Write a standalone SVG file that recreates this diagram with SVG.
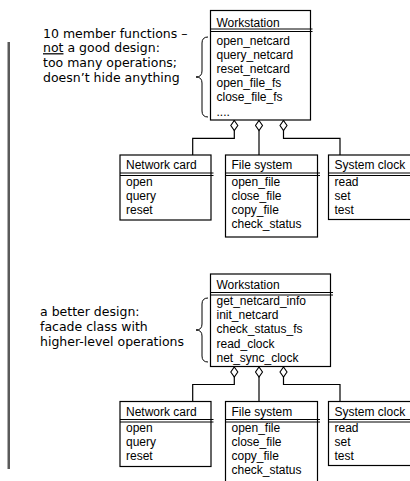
<svg xmlns="http://www.w3.org/2000/svg" width="410" height="481" viewBox="0 0 410 481">
  <defs>
    <style>
      .box { fill: #fff; stroke: #000; stroke-width: 1.2; }
      .sep { stroke: #000; stroke-width: 1; fill: none; }
      .t { font-family: "Liberation Sans", Arial, sans-serif; font-size: 12px; fill: #000; }
      .note { font-family: "DejaVu Sans", Verdana, sans-serif; font-size: 12.5px; fill: #000; }
      .wire { fill: none; stroke: #000; stroke-width: 1.2; marker-start: url(#agg); }
      .brace { fill: none; stroke: #000; stroke-width: 1; }
      .rule { stroke: #5a5a5a; stroke-width: 2.5; }
    </style>
    <!-- hollow aggregation diamond, placed at the owner end of each connector -->
    <marker id="agg" markerUnits="userSpaceOnUse" markerWidth="12" markerHeight="9"
            viewBox="0 -4.5 12 9" refX="0" refY="0" orient="auto">
      <path d="M0.5,0 L5.5,-3.5 L10.5,0 L5.5,3.5 Z" fill="#fff" stroke="#000" stroke-width="1.1"/>
    </marker>
  </defs>

  <!-- margin rule -->
  <line class="rule" x1="8.75" y1="42" x2="8.75" y2="469"/>

  <!-- ===== first design ===== -->
  <g id="note-bad">
    <text class="note" x="43" y="37.5">10 member functions –</text>
    <text class="note" x="43" y="52.2"><tspan text-decoration="underline">not</tspan> a good design:</text>
    <text class="note" x="43" y="66.9">too many operations;</text>
    <text class="note" x="43" y="81.6">doesn’t hide anything</text>
    <path class="brace" d="M208,37 Q202,37 202,43 L202,71 Q202,77 196,77 Q202,77 202,83 L202,111 Q202,117 208,117"/>
  </g>

  <g id="workstation-1">
    <rect class="box" x="210.5" y="10.5" width="100" height="109.5"/>
    <path class="sep" d="M210.5,29 H312.5 M210.5,31.5 H312.5"/>
    <text class="t" x="216.5" y="26.5">Workstation</text>
    <text class="t" x="216.5" y="44.5">open_netcard</text>
    <text class="t" x="216.5" y="58.7">query_netcard</text>
    <text class="t" x="216.5" y="72.9">reset_netcard</text>
    <text class="t" x="216.5" y="87.1">open_file_fs</text>
    <text class="t" x="216.5" y="101.3">close_file_fs</text>
    <text class="t" x="216.5" y="115.5">....</text>
  </g>

  <g id="netcard-1">
    <rect class="box" x="120" y="155" width="91" height="65"/>
    <path class="sep" d="M120,173 H213.5 M120,175.5 H213.5"/>
    <text class="t" x="126" y="169">Network card</text>
    <text class="t" x="126" y="185.5">open</text>
    <text class="t" x="126" y="199.5">query</text>
    <text class="t" x="126" y="213.5">reset</text>
  </g>

  <g id="filesystem-1">
    <rect class="box" x="225.5" y="155" width="92" height="82"/>
    <path class="sep" d="M225.5,173 H320 M225.5,175.5 H320"/>
    <text class="t" x="231.5" y="169">File system</text>
    <text class="t" x="231.5" y="185.5">open_file</text>
    <text class="t" x="231.5" y="199.5">close_file</text>
    <text class="t" x="231.5" y="213.5">copy_file</text>
    <text class="t" x="231.5" y="227.5">check_status</text>
  </g>

  <g id="clock-1">
    <rect class="box" x="328.5" y="155" width="90" height="64.5"/>
    <path class="sep" d="M328.5,173 H410 M328.5,175.5 H410"/>
    <text class="t" x="334.5" y="169">System clock</text>
    <text class="t" x="334.5" y="185.5">read</text>
    <text class="t" x="334.5" y="199.5">set</text>
    <text class="t" x="334.5" y="213.5">test</text>
  </g>

  <!-- ===== facade design ===== -->
  <g id="note-good">
    <text class="note" x="40" y="316">a better design:</text>
    <text class="note" x="40" y="330.8">facade class with</text>
    <text class="note" x="40" y="345.6">higher-level operations</text>
    <path class="brace" d="M208,298 Q202,298 202,304 L202,324 Q202,330 196,330 Q202,330 202,336 L202,356 Q202,362 208,362"/>
  </g>

  <g id="workstation-2">
    <rect class="box" x="210.5" y="274" width="120" height="92.5"/>
    <path class="sep" d="M210.5,292.5 H333 M210.5,295 H333"/>
    <text class="t" x="216.5" y="288.5">Workstation</text>
    <text class="t" x="216.5" y="305">get_netcard_info</text>
    <text class="t" x="216.5" y="319.2">init_netcard</text>
    <text class="t" x="216.5" y="333.4">check_status_fs</text>
    <text class="t" x="216.5" y="347.6">read_clock</text>
    <text class="t" x="216.5" y="361.8">net_sync_clock</text>
  </g>

  <g id="netcard-2">
    <rect class="box" x="120" y="401.5" width="91" height="65"/>
    <path class="sep" d="M120,419.5 H213.5 M120,422 H213.5"/>
    <text class="t" x="126" y="415.5">Network card</text>
    <text class="t" x="126" y="432">open</text>
    <text class="t" x="126" y="446">query</text>
    <text class="t" x="126" y="460">reset</text>
  </g>

  <g id="filesystem-2">
    <rect class="box" x="225.5" y="401.5" width="92" height="82"/>
    <path class="sep" d="M225.5,419.5 H320 M225.5,422 H320"/>
    <text class="t" x="231.5" y="415.5">File system</text>
    <text class="t" x="231.5" y="432">open_file</text>
    <text class="t" x="231.5" y="446">close_file</text>
    <text class="t" x="231.5" y="460">copy_file</text>
    <text class="t" x="231.5" y="474">check_status</text>
  </g>

  <g id="clock-2">
    <rect class="box" x="328.5" y="401.5" width="90" height="64"/>
    <path class="sep" d="M328.5,419.5 H410 M328.5,422 H410"/>
    <text class="t" x="334.5" y="415.5">System clock</text>
    <text class="t" x="334.5" y="432">read</text>
    <text class="t" x="334.5" y="446">set</text>
    <text class="t" x="334.5" y="460">test</text>
  </g>

  <!-- aggregation connectors -->
  <g id="connectors">
    <path class="wire" d="M234.3,120 V138.3 H192.7 V155"/>
    <path class="wire" d="M259,120 V155"/>
    <path class="wire" d="M283.5,120 V138.3 H340 V155"/>
    <path class="wire" d="M234.3,366.5 V384.5 H192.7 V401.5"/>
    <path class="wire" d="M259,366.5 V401.5"/>
    <path class="wire" d="M283.5,366.5 V384.5 H340 V401.5"/>
  </g>
</svg>
